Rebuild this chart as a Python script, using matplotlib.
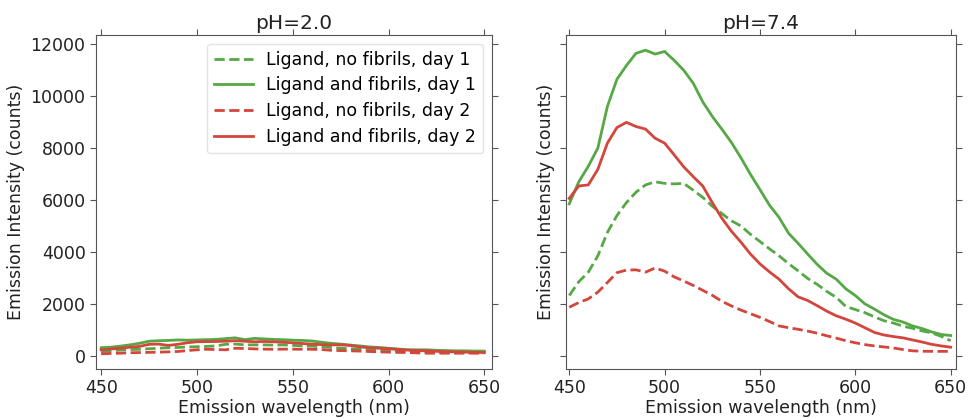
import matplotlib
matplotlib.use("Agg")
import matplotlib.pyplot as plt
import numpy as np

# ---------------------------------------------------------------------------
# Data (5 nm steps)
# ---------------------------------------------------------------------------
wavelength = np.arange(450, 651, 5)

# pH 2.0
ph2_noFib_d1 = [160, 190, 220, 240, 250, 270, 290, 310, 320, 340, 350, 360, 380, 440,
                450, 420, 420, 420, 410, 420, 400, 380, 370, 350, 320, 290, 270, 250,
                240, 220, 210, 190, 180, 170, 160, 140, 130, 130, 125, 125, 125]
ph2_fib_d1 = [310, 330, 370, 420, 480, 560, 580, 590, 610, 600, 610, 620, 630, 660,
              690, 620, 670, 650, 630, 620, 600, 590, 570, 520, 480, 450, 410, 380,
              340, 320, 290, 260, 230, 230, 230, 210, 200, 190, 190, 180, 180]
ph2_noFib_d2 = [75, 90, 100, 115, 125, 130, 140, 150, 165, 200, 230, 250, 240, 230,
                290, 280, 265, 255, 250, 255, 255, 250, 250, 240, 210, 200, 190, 180,
                165, 150, 140, 130, 125, 110, 100, 100, 100, 100, 100, 100, 100]
ph2_fib_d2 = [230, 260, 290, 330, 360, 440, 450, 400, 440, 500, 540, 545, 550, 560,
              580, 560, 540, 550, 540, 520, 500, 470, 450, 430, 420, 420, 400, 340,
              310, 290, 270, 240, 220, 200, 190, 170, 160, 150, 140, 130, 125]

# pH 7.4
ph7_noFib_d1 = [2320, 2850, 3220, 3850, 4750, 5400, 5900, 6300, 6580, 6700, 6640,
                6620, 6640, 6380, 6100, 5760, 5480, 5200, 5000, 4680, 4400, 4120,
                3850, 3550, 3270, 2980, 2750, 2480, 2250, 1900, 1780, 1660, 1500,
                1350, 1260, 1140, 1060, 960, 880, 750, 580]
ph7_fib_d1 = [5850, 6700, 7300, 8000, 9600, 10650, 11180, 11650, 11770, 11620, 11720,
              11380, 11000, 10500, 9780, 9220, 8730, 8220, 7630, 6990, 6400, 5800,
              5330, 4720, 4330, 3920, 3520, 3180, 2950, 2580, 2320, 2000, 1800, 1580,
              1400, 1300, 1150, 1050, 920, 820, 780]
ph7_noFib_d2 = [1870, 2050, 2190, 2450, 2820, 3200, 3300, 3310, 3220, 3380, 3260,
                3040, 2880, 2710, 2520, 2330, 2100, 1920, 1760, 1620, 1480, 1320,
                1150, 1080, 1020, 950, 870, 770, 680, 580, 500, 430, 380, 340, 300,
                240, 190, 175, 170, 170, 170]
ph7_fib_d2 = [6060, 6540, 6580, 7180, 8190, 8790, 8990, 8830, 8730, 8380, 8190, 7740,
              7280, 6900, 6540, 5900, 5300, 4800, 4380, 3920, 3540, 3230, 2950, 2580,
              2270, 2130, 1930, 1720, 1540, 1410, 1260, 1080, 900, 800, 740, 690, 610,
              530, 440, 380, 330]

labels = ["Ligand, no fibrils, day 1", "Ligand and fibrils, day 1",
          "Ligand, no fibrils, day 2", "Ligand and fibrils, day 2"]

GREEN = "#55a845"
RED = "#d4453c"
FS = 12.5

# ---------------------------------------------------------------------------
# Figure
# ---------------------------------------------------------------------------
fig = plt.figure(figsize=(9.68, 4.18), dpi=100)
ax1 = fig.add_axes([96 / 968, 1 - 369 / 418, 396 / 968, 334 / 418])
ax2 = fig.add_axes([566 / 968, 1 - 369 / 418, 390 / 968, 334 / 418], sharey=ax1)

panels = [
    (ax1, "pH=2.0", [ph2_noFib_d1, ph2_fib_d1, ph2_noFib_d2, ph2_fib_d2]),
    (ax2, "pH=7.4", [ph7_noFib_d1, ph7_fib_d1, ph7_noFib_d2, ph7_fib_d2]),
]
styles = [(GREEN, "--"), (GREEN, "-"), (RED, "--"), (RED, "-")]

for ax, title, series in panels:
    for ys, (col, ls), lab in zip(series, styles, labels):
        ax.plot(wavelength, ys, color=col, linestyle=ls, lw=2, label=lab)
    ax.set_title(title, fontsize=14.5, color="#222222", pad=4)
    ax.set_xlabel("Emission wavelength (nm)", fontsize=FS, color="#222222", labelpad=1)
    ax.set_ylabel("Emission Intensity (counts)", fontsize=FS, color="#222222")
    ax.set_xlim(447.3, 654)
    ax.set_xticks([450, 500, 550, 600, 650])
    ax.tick_params(axis="both", which="both", direction="out", top=True, right=True,
                   labelsize=FS, colors="#555555", labelcolor="#222222", length=4)
    for sp in ax.spines.values():
        sp.set_color("#555555")

ax1.set_yticks(np.arange(0, 12001, 2000))
ax2.tick_params(labelleft=False)
ax2.set_xlim(448.3, 652.8)

leg = ax1.legend(loc="upper right", fontsize=FS, frameon=True, handlelength=2.2,
                 borderpad=0.4, labelspacing=0.45)
leg.get_frame().set_edgecolor("#dddddd")

fig.savefig("out.png", dpi=100, facecolor="white")
plt.close(fig)
